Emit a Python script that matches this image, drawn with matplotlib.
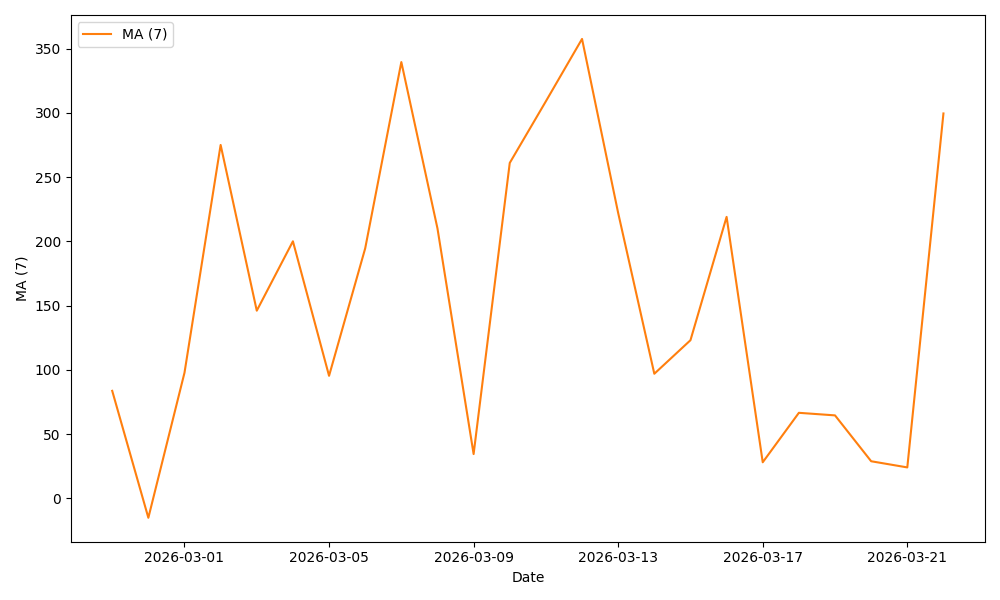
import numpy as np
import pandas as pd
import matplotlib
matplotlib.use('Agg')
import matplotlib.pyplot as plt
import matplotlib.dates as mdates

# Data
dates = pd.date_range('2026-02-27', '2026-03-22', freq='D')
ma7 = [83.6, -15.2, 97.7, 275.0, 146.0, 200.0, 95.3, 194.5, 339.5, 210.0,
       34.4, 261.0, 309.0, 357.5, 222.0, 96.9, 123.0, 219.0, 28.0, 66.5,
       64.5, 28.8, 24.0, 299.5]

fig, ax = plt.subplots(figsize=(10, 6))
ax.plot(dates, ma7, color='#ff7f0e', label='MA (7)')

ax.set_xlabel('Date')
ax.set_ylabel('MA (7)')
ax.legend(loc='upper left')

ax.xaxis.set_major_locator(mdates.DayLocator(bymonthday=[1, 5, 9, 13, 17, 21]))
ax.xaxis.set_major_formatter(mdates.DateFormatter('%Y-%m-%d'))

plt.tight_layout()
plt.savefig('out.png', dpi=100)
